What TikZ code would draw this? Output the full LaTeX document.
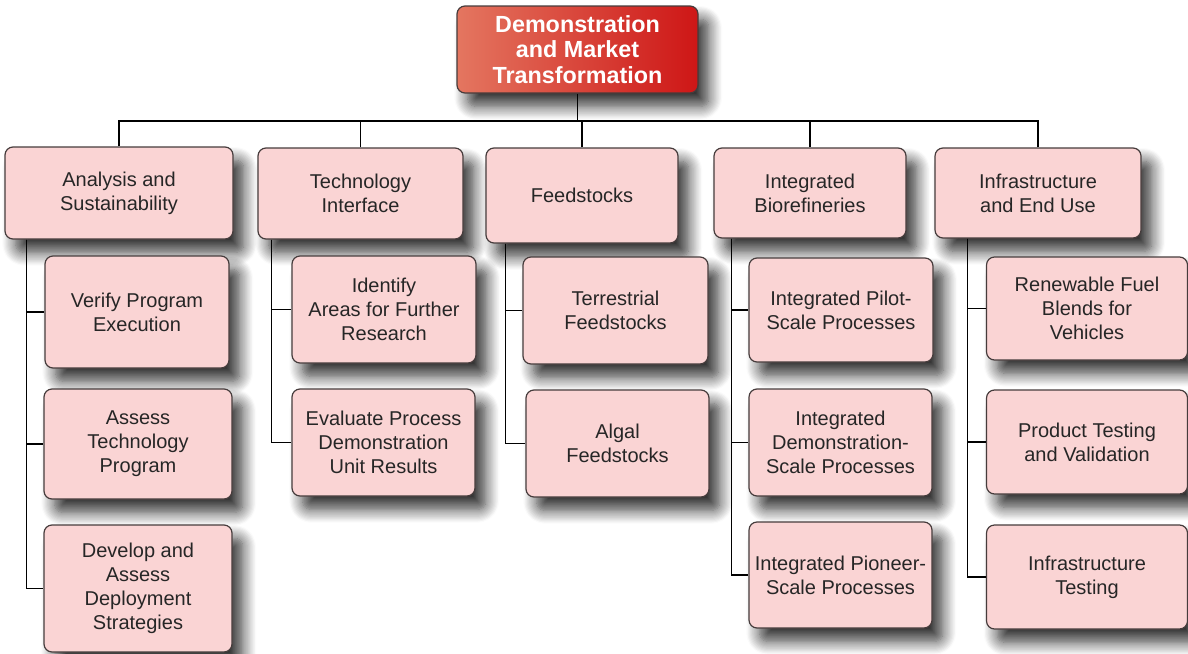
\documentclass[tikz,border=0pt]{standalone}
\usepackage{fontspec}
\setmainfont{Liberation Sans}
\usetikzlibrary{shadows.blur}
\definecolor{boxpink}{RGB}{250,212,212}
\definecolor{boxline}{RGB}{70,60,60}
\definecolor{headlight}{RGB}{228,118,96}
\definecolor{headdark}{RGB}{206,22,22}
\begin{document}
\begin{tikzpicture}[x=0.75pt,y=-0.75pt,
  base/.style={draw=boxline,line width=0.9pt,rounded corners=6pt,align=center,
    blur shadow={shadow xshift=8pt,shadow yshift=-10pt,shadow blur radius=10pt,
      shadow blur steps=12,shadow opacity=80}},
  box/.style 2 args={base,fill=boxpink,text=black!85,
    font=\fontsize{15pt}{18pt}\selectfont,minimum width=#1pt,minimum height=#2pt},
  head/.style={base,left color=headlight,right color=headdark,text=white,
    font=\fontsize{17.5pt}{19pt}\selectfont\bfseries,minimum width=180.75pt,minimum height=65.25pt},
  link/.style={line width=1.2pt,black}]
  \useasboundingbox (0,0) rectangle (1188,653);
  \node[head] (top) at (577.5,49.5) {Demonstration\\and Market\\Transformation};
  \coordinate (hub) at (577.5,121);
  % first level
  \node[box={171}{69}]      (ana) at (119,193)   {Analysis and\\Sustainability};
  \node[box={153.75}{68.25}] (tec) at (360.5,193.5) {Technology\\Interface};
  \node[box={144}{71.25}]   (fee) at (582,195.5) {Feedstocks};
  \node[box={144}{67.5}]    (bio) at (810,193)   {Integrated\\Biorefineries};
  \node[box={154.5}{67.5}]  (inf) at (1038,193)  {Infrastructure\\and End Use};
  % second level
  \node[box={138}{84}]      (ana1) at (137,312)   {Verify Program\\Execution};
  \node[box={141}{82.5}]    (ana2) at (138,444)   {Assess\\Technology\\Program};
  \node[box={141}{95.25}]   (ana3) at (138,588.5) {Develop and\\Assess\\Deployment\\Strategies};
  \node[box={138}{80.25}]   (tec1) at (384,309.5) {Identify\\Areas for Further\\Research};
  \node[box={137.25}{80.25}] (tec2) at (383.5,442.5) {Evaluate Process\\Demonstration\\Unit Results};
  \node[box={138.75}{80.25}] (fee1) at (615.5,310.5) {Terrestrial\\Feedstocks};
  \node[box={137.25}{80.25}] (fee2) at (617.5,443.5) {Algal\\Feedstocks};
  \node[box={138}{78}]      (bio1) at (841,310)   {Integrated Pilot-\\Scale Processes};
  \node[box={137.25}{80.25}] (bio2) at (840.5,442.5) {Integrated\\Demonstration-\\Scale Processes};
  \node[box={137.25}{79.5}] (bio3) at (840.5,575) {Integrated Pioneer-\\Scale Processes};
  \node[box={150.75}{77.25}] (inf1) at (1087,308.5) {Renewable Fuel\\Blends for\\Vehicles};
  \node[box={150.75}{78}]   (inf2) at (1087,442)  {Product Testing\\and Validation};
  \node[box={150.75}{78}]   (inf3) at (1087,577)  {Infrastructure\\Testing};
  % connectors
  \draw[link] (top) -- (hub);
  \foreach \n in {ana,tec,fee,bio,inf}
    \draw[link] (\n.north) |- (hub);
  \foreach \c in {ana1,ana2,ana3}
    \draw[link] (ana.south west) ++(22,0) |- (\c.west);
  \foreach \c in {tec1,tec2}
    \draw[link] (tec.south west) ++(14,0) |- (\c.west);
  \foreach \c in {fee1,fee2}
    \draw[link] (fee.south west) ++(20,0) |- (\c.west);
  \foreach \c in {bio1,bio2,bio3}
    \draw[link] (bio.south west) ++(18,0) |- (\c.west);
  \foreach \c in {inf1,inf2,inf3}
    \draw[link] (inf.south west) ++(33,0) |- (\c.west);
\end{tikzpicture}
\end{document}
